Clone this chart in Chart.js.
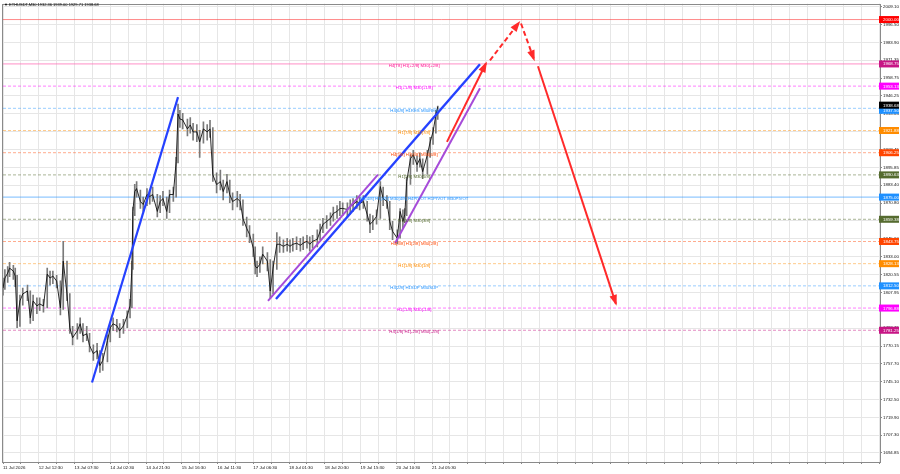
<!DOCTYPE html>
<html><head><meta charset="utf-8">
<script src="https://cdn.jsdelivr.net/npm/chart.js@4/dist/chart.umd.min.js"></script>
<style>html,body{margin:0;padding:0;background:#fff;}#c{display:block;}</style>
</head><body>
<canvas id="c" width="900" height="474"></canvas>
<script>
// ---------- DATA ----------
const chartTitle = "ETHUSDT,M30 1932.36 1939.00 1929.71 1938.68";
const timeLabels = ["11 Jul 2026","12 Jul 12:30","13 Jul 07:30","14 Jul 02:30","14 Jul 21:30","15 Jul 16:30","16 Jul 11:30","17 Jul 06:30","18 Jul 01:30","18 Jul 20:30","19 Jul 15:30","20 Jul 10:30","21 Jul 05:30"];
const priceTicks = [2009.10,1996.50,1983.90,1971.35,1958.75,1946.25,1933.65,1921.05,1908.45,1895.85,1883.40,1870.80,1858.20,1845.60,1833.00,1820.55,1807.95,1795.35,1782.75,1770.15,1757.70,1745.10,1732.50,1719.90,1707.30,1694.85];
const priceTickLabels = ["2009.10","1996.50","1983.90","1971.35","1958.75","1946.25","1933.65","1921.05","1908.45","1895.85","1883.40","1870.80","1858.20","1845.60","1833.00","1820.55","1807.95","1795.35","1782.75","1770.15","1757.70","1745.10","1732.50","1719.90","1707.30","1694.85"];

const bars = [0,2,5,7,11,13,15,18,21,26,29,32,36,39,43,47,50,53,57,61,64,68,71,74,79,82,85,89,92,96,100,103,106,111,114,117,121,124,128,132,135,137,138,140,142,146,149,153,156,159,164,167,170,174,177,181,184,186,188,191,196,199,202,206,209,213,217,220,223,227,231,234,238,241,244,249,252,255,259,262,266,268,270,273,276,281,284,287,291,294,298,302,305,308,312,316,319,323,326,329,334,337,340,344,348,351,355,358,361,366,369,372,376,379,383,387,390,393,397,401,404,408,411,414,419,422,425,427,429,433,436,440,443,446,451,454,457,460,462];
const closes = [1811.0,1818.0,1821.5,1825.0,1822.9,1819.4,1787.9,1801.9,1806.8,1808.9,1790.0,1801.9,1798.4,1799.8,1798.4,1820.8,1818.0,1819.4,1815.9,1797.0,1829.9,1806.8,1783.0,1776.0,1780.9,1785.8,1777.4,1778.8,1770.4,1764.8,1766.9,1756.4,1759.9,1773.9,1783.0,1785.8,1784.4,1780.9,1784.4,1791.4,1798.4,1825.0,1864.9,1878.9,1881.0,1871.9,1869.8,1876.8,1875.4,1876.8,1864.9,1871.9,1874.0,1864.9,1876.8,1876.8,1899.9,1933.5,1930.0,1929.3,1923.0,1925.8,1920.9,1920.9,1913.9,1923.0,1920.9,1923.0,1890.8,1883.8,1885.9,1878.9,1885.9,1876.8,1871.9,1874.0,1871.9,1860.0,1853.0,1848.8,1839.0,1826.4,1825.0,1827.8,1834.8,1829.9,1808.9,1825.0,1841.8,1841.8,1840.4,1841.8,1840.4,1841.8,1842.5,1841.1,1842.5,1843.9,1841.8,1843.9,1845.3,1850.9,1855.8,1857.9,1860.0,1863.5,1864.9,1867.0,1867.0,1866.3,1868.4,1869.8,1871.9,1870.5,1871.9,1862.8,1855.8,1857.9,1861.4,1882.4,1874.0,1871.9,1857.9,1850.9,1846.0,1864.9,1857.9,1862.8,1885.9,1902.0,1904.8,1897.8,1902.0,1892.9,1904.8,1913.9,1920.9,1932.8,1938.68];
const highs = [1818,1824,1826,1829,1827,1825,1820,1806,1811,1813,1809,1806,1804,1804,1803,1825,1823,1823,1820,1816,1843.9,1830,1807,1784,1786,1790,1786,1784,1779,1771,1772,1767,1765,1778,1787,1790,1789,1786,1789,1795,1803,1830,1868,1884,1886,1880,1875,1881,1880,1882,1877,1876,1879,1875,1880,1882,1903,1940.5,1936,1934,1930,1931,1927,1926,1922,1928,1926,1929,1924,1892,1894,1887,1891,1887,1878,1879,1877,1873,1861,1855,1849,1840,1830,1833,1840,1836,1831,1830,1850,1847,1845,1846,1845,1846,1847,1846,1847,1848,1847,1848,1852,1856,1860,1862,1864,1868,1869,1872,1871,1871,1873,1874,1876,1875,1876,1872,1863,1862,1866,1886,1882,1876,1872,1858,1852,1867,1866,1867,1889,1905,1908,1904,1906,1902,1908,1917,1924,1936,1939.0];
const lows = [1806,1810,1815,1819,1817,1812,1783,1784,1799,1802,1786,1788,1793,1795,1794,1797,1813,1814,1811,1792,1796,1802,1779,1771,1775,1779,1773,1774,1766,1760,1761,1751.5,1753,1759,1773,1781,1780,1776,1779,1783,1790,1797,1824,1862,1875,1867,1865,1869,1870,1872,1861,1864,1869,1860,1864,1872,1875,1899,1924,1923,1918,1920,1915,1914,1903,1913,1915,1917,1886,1878,1880,1873,1878,1871,1866,1868,1866,1855,1847,1843,1833,1821,1819,1822,1828,1823,1804,1807,1824,1836,1836,1837,1836,1837,1838,1837,1838,1839,1837,1839,1840,1845,1850,1853,1855,1858,1860,1862,1862,1861,1863,1865,1867,1866,1867,1858,1850,1852,1856,1860,1869,1867,1852,1845,1842,1846,1853,1857,1862,1884,1898,1893,1896,1888,1891,1903,1912,1920,1929.71];

const levelValues = [2000.00,1968.75,1953.13,1937.50,1921.88,1906.25,1890.63,1875.00,1859.38,1843.75,1828.13,1812.50,1796.88,1781.25];
const levelTexts = ["","H4[T8] H1[+2/8] M30[+2/8]","H1[+1/8] M30[+1/8]","H4[6/8] H1RES M30RES","H1[7/8] M30[7/8]","H4[5/8] H1[6/8] M30[6/8]","H1[5/8] M30[5/8]","H4[4/8] H1[4/8] M30[4/8] H4PIVOT H1PIVOT M30PIVOT","H1[3/8] M30[3/8]","H4[3/8] H1[2/8] M30[2/8]","H1[1/8] M30[1/8]","H4[2/8] H1SUP M30SUP","H1[-1/8] M30[-1/8]","H4[1/8] H1[-2/8] M30[-2/8]"];
const lastPrice = 1938.68;

// trend lines / arrows: [bar, price] endpoints
const blueTrend1 = [[94.6,1744.5],[186.0,1945.4]];
const blueTrend2 = [[290.1,1803.3],[506.9,1968.5]];
const purpleTrend1 = [[281.6,1801.9],[398.5,1890.8]];
const purpleTrend2 = [[416.6,1842.5],[506.9,1951.7]];
const redUp = [[471.8,1913.9],[513.3,1969.2]];
const redDashUp = [[517.5,1971.3],[548.4,1997.9]];
const redDashDown = [[550.5,1997.2],[564.3,1972.0]];
const redDown = [[568.5,1967.1],[651.4,1799.8]];

// ---------- STYLES ----------
const X_MIN = 0, X_MAX = 932, Y_MIN = 1688.5, Y_MAX = 2011.2;
const LABEL_BAR = 437;
const levelLineColors = ["rgba(255,60,60,0.6)","rgba(255,105,180,0.75)","rgba(255,0,255,0.5)","rgba(30,144,255,0.45)","rgba(255,140,0,0.45)","rgba(255,69,0,0.45)","rgba(85,107,47,0.5)","rgba(30,144,255,0.6)","rgba(85,107,47,0.5)","rgba(255,69,0,0.45)","rgba(255,140,0,0.45)","rgba(30,144,255,0.45)","rgba(255,0,255,0.5)","rgba(199,21,133,0.5)"];
const levelTextColors = ["#ff0000","#ff1493","#ff00ff","#1e90ff","#ff8c00","#ff4500","#556b2f","#1e90ff","#556b2f","#ff4500","#ff8c00","#1e90ff","#ff00ff","#c71585"];
const levelBoxColors = ["#ff0000","#c71585","#ff00ff","#1e90ff","#ff8c00","#ff4500","#556b2f","#1e90ff","#556b2f","#ff4500","#ff8c00","#1e90ff","#ff00ff","#c71585"];
const levelDashed = [false,false,true,true,true,true,true,false,true,true,true,true,true,true];
const FONT = "'Liberation Sans', Arial, sans-serif";

const pts = a => a.map(p => ({x:p[0], y:p[1]}));

const datasets = [];
levelValues.forEach((v,i)=>{
  datasets.push({type:'line', data:[{x:X_MIN,y:v},{x:X_MAX,y:v}], borderColor:levelLineColors[i], borderWidth:1,
    borderDash: levelDashed[i] ? [3,2] : [], pointRadius:0, order:20});
});
datasets.push({type:'bar', data: bars.map((b,i)=>({x:b, y:[lows[i], highs[i]]})), backgroundColor:'#7a7a7a', barThickness:1, order:6});
datasets.push({type:'line', data: bars.map((b,i)=>({x:b, y:closes[i]})), borderColor:'#111', borderWidth:0.9, pointRadius:0, tension:0, order:5});
const trend = (a,color,w,dash,arrow)=>({type:'line', data:pts(a), borderColor:color, borderWidth:w, borderDash:dash, pointRadius:0, order:1, arrowHead:arrow, borderCapStyle:'butt'});
datasets.push(trend(blueTrend1,'#2541ff',2.2,[],false));
datasets.push(trend(blueTrend2,'#2541ff',2.4,[],false));
datasets.push(trend(purpleTrend1,'#a64bd9',2,[],false));
datasets.push(trend(purpleTrend2,'#a64bd9',2,[],false));
datasets.push(trend(redUp,'#ff2a2a',2,[],true));
datasets.push(trend(redDashUp,'#ff2a2a',2,[5,3],true));
datasets.push(trend(redDashDown,'#ff2a2a',2,[5,3],true));
datasets.push(trend(redDown,'#ff2a2a',2,[],true));

const overlayPlugin = {
  id:'overlay',
  afterDatasetsDraw(chart){
    const ctx = chart.ctx, xs = chart.scales.x, ys = chart.scales.y;
    chart.data.datasets.forEach((ds,i)=>{
      if(!ds.arrowHead) return;
      const d = chart.getDatasetMeta(i).data;
      const a = d[d.length-2], b = d[d.length-1];
      const ang = Math.atan2(b.y-a.y, b.x-a.x), L=9, W=3.8;
      ctx.save(); ctx.fillStyle = ds.borderColor; ctx.beginPath();
      ctx.moveTo(b.x+2*Math.cos(ang), b.y+2*Math.sin(ang));
      ctx.lineTo(b.x - L*Math.cos(ang) + W*Math.sin(ang), b.y - L*Math.sin(ang) - W*Math.cos(ang));
      ctx.lineTo(b.x - L*Math.cos(ang) - W*Math.sin(ang), b.y - L*Math.sin(ang) + W*Math.cos(ang));
      ctx.closePath(); ctx.fill(); ctx.restore();
    });
    ctx.save();
    ctx.font = "4.3px " + FONT; ctx.textAlign='center'; ctx.textBaseline='middle';
    levelValues.forEach((v,i)=>{
      if(!levelTexts[i]) return;
      ctx.fillStyle = levelTextColors[i];
      ctx.fillText(levelTexts[i], xs.getPixelForValue(LABEL_BAR), ys.getPixelForValue(v)+2);
    });
    ctx.restore();
  },
  afterDraw(chart){
    const ctx = chart.ctx, ys = chart.scales.y, ca = chart.chartArea;
    ctx.save();
    ctx.strokeStyle = '#8a8a8a'; ctx.lineWidth = 1;
    ctx.strokeRect(Math.round(ca.left)-0.5, Math.round(ca.top)+0.5, Math.round(ca.right-ca.left)+1, Math.round(ca.bottom-ca.top));
    ctx.font = "4px " + FONT; ctx.fillStyle = '#000'; ctx.textBaseline='middle'; ctx.textAlign='left';
    ctx.fillText("\u25BC " + chartTitle, 4, 4.5);
    ctx.font = "4.4px " + FONT; ctx.textAlign='left';
    const box = (v, col, dy)=>{
      const y = ys.getPixelForValue(v) + dy;
      ctx.fillStyle = col; ctx.fillRect(ca.right-1, y-3.5, 20, 7);
      ctx.fillStyle = '#fff'; ctx.fillText(v.toFixed(2), ca.right+3, y+0.3);
    };
    levelValues.forEach((v,i)=> box(v, levelBoxColors[i], i===3 ? 2 : 0));
    box(lastPrice, '#000', -1.5);
    ctx.restore();
  }
};

new Chart(document.getElementById('c'), {
  type:'line',
  data:{datasets},
  options:{
    responsive:false, animation:false, devicePixelRatio:1,
    layout:{padding:{left:3, top:1, right:0, bottom:0}},
    plugins:{legend:{display:false}, tooltip:{enabled:false}},
    scales:{
      x:{type:'linear', min:X_MIN, max:X_MAX, offset:false,
        grid:{color:'#e6e6e6', offset:false, drawTicks:true, tickLength:2, tickColor:'#888'},
        border:{display:false},
        afterBuildTicks(s){ const t=[]; for(let v=0; v<=X_MAX; v+=19) t.push({value:v}); s.ticks=t; },
        afterFit(s){ s.height = 12; },
        ticks:{autoSkip:false, maxRotation:0, align:'start', padding:1, color:'#111', font:{size:4.4, family:FONT},
          callback:(v,i)=> (i%2===0 && timeLabels[i/2]) ? timeLabels[i/2] : ''}
      },
      y:{type:'linear', position:'right', min:Y_MIN, max:Y_MAX,
        grid:{color:'#e6e6e6', drawTicks:true, tickLength:2, tickColor:'#888'},
        border:{display:false},
        afterBuildTicks(s){ s.ticks = priceTicks.map(v=>({value:v})); },
        afterFit(s){ s.width = 20; },
        ticks:{padding:1, color:'#111', font:{size:4.4, family:FONT}, callback:(v,i)=>priceTickLabels[i]}
      }
    }
  },
  plugins:[overlayPlugin]
});
</script>
</body></html>
